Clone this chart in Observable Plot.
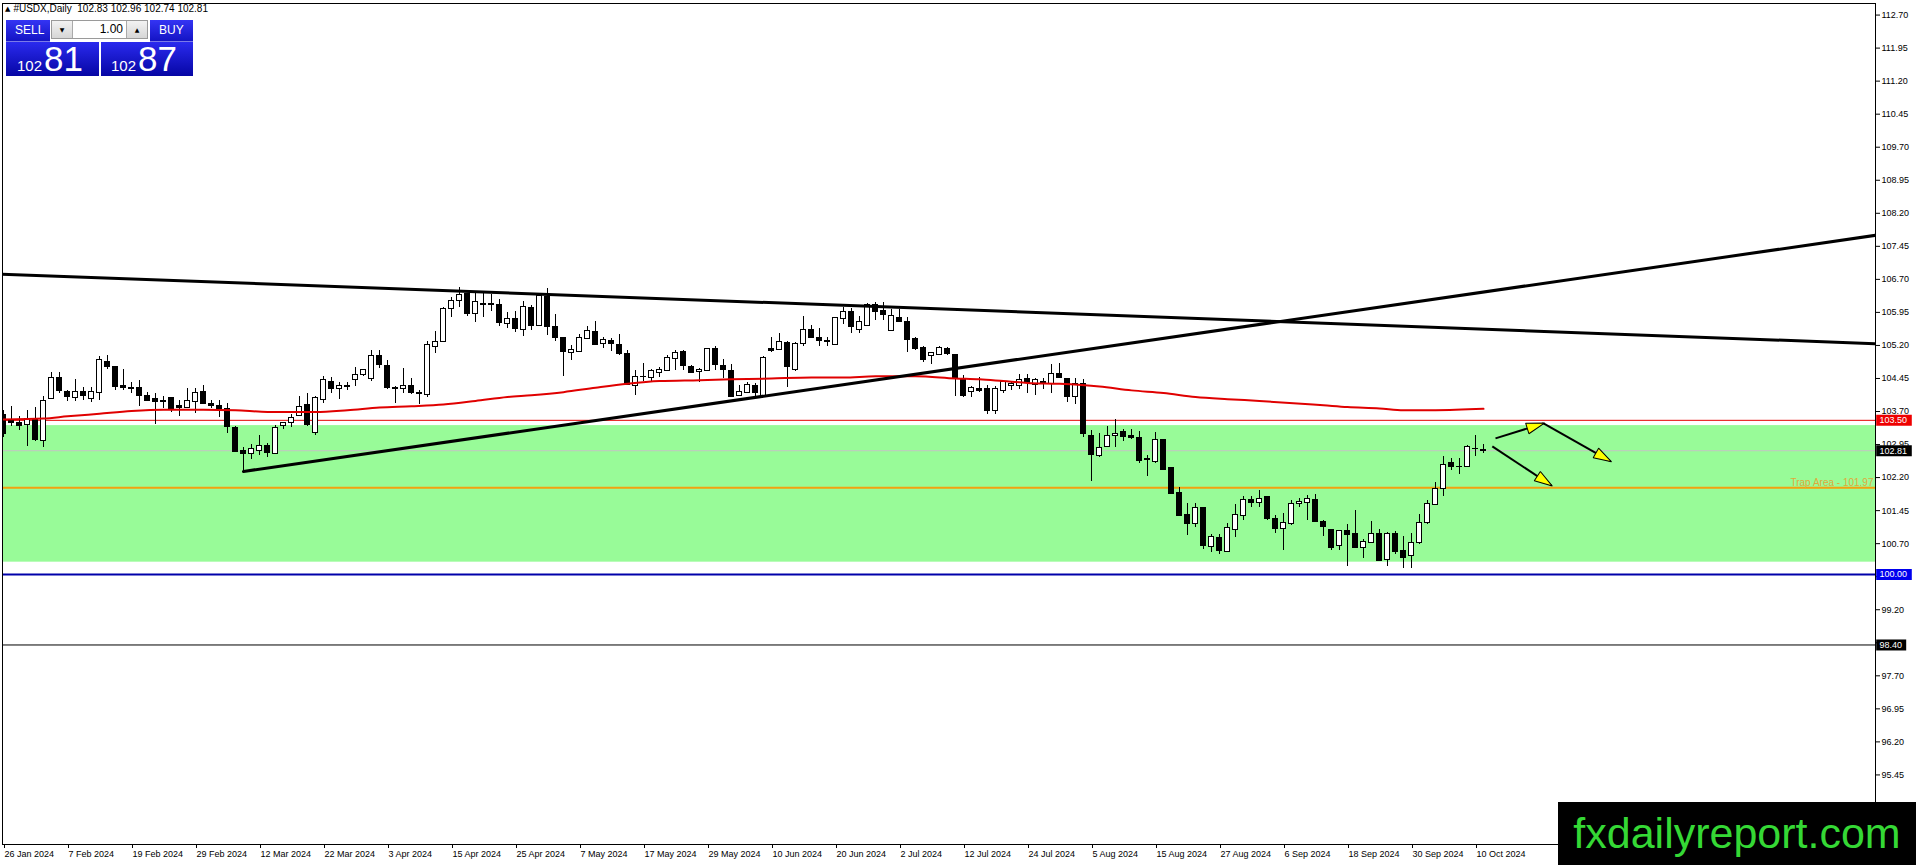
<!DOCTYPE html>
<html><head><meta charset="utf-8">
<script src="https://cdn.jsdelivr.net/npm/d3@7"></script>
<script src="https://cdn.jsdelivr.net/npm/@observablehq/plot@0.6"></script>
<style>
body{margin:0;background:#fff;}
#wrap{position:relative;width:1916px;height:865px;overflow:hidden;font-family:"Liberation Sans",Arial,sans-serif;}
#chart svg{display:block;}
#hdr{position:absolute;left:5px;top:3px;font-size:10px;color:#000;white-space:pre;}
#hdr .tri{font-size:7px;font-family:"DejaVu Sans";vertical-align:1px;margin-right:3px;}
.blue{position:absolute;background:linear-gradient(#3434f4,#1414c4);color:#fff;}
.big{position:absolute;top:42px;height:34px;background:linear-gradient(#2a2aee,#0606a4);color:#fff;}
.big .v{position:absolute;right:16px;top:0;line-height:34px;white-space:nowrap;}
.big .s{font-size:15px;margin-right:2px;}
.big .b{font-size:35px;}
#lot{position:absolute;left:51px;top:20px;width:97px;height:19px;background:#fff;border:1px solid #9a9a9a;box-sizing:border-box;}
#lot .dn,#lot .up{position:absolute;top:0;width:20px;height:17px;background:linear-gradient(#f2f2f2,#d6d6d6);font-size:6px;font-family:"DejaVu Sans";text-align:center;line-height:17px;}
#lot .dn{left:0;border-right:1px solid #aaa;}
#lot .up{right:0;border-left:1px solid #aaa;}
#lot .val{position:absolute;right:24px;top:0;line-height:17px;font-size:12px;}
#wm{position:absolute;left:1558px;top:802px;width:358px;height:63px;background:#000;color:#35d835;font-size:43px;line-height:63px;text-align:center;font-family:"Liberation Sans",Arial,sans-serif;}
</style></head><body>
<div id="wrap">
<div id="chart"></div>
<div id="hdr"><span class="tri">▲</span>#USDX,Daily  102.83 102.96 102.74 102.81</div>
<div class="blue" style="left:6px;top:20px;width:44px;height:22px;font-size:12px;line-height:21px;padding-left:9px;box-sizing:border-box;border-bottom:1px solid #7a7ae8;">SELL</div>
<div id="lot"><div class="dn">▼</div><div class="val">1.00</div><div class="up">▲</div></div>
<div class="blue" style="left:150px;top:20px;width:43px;height:22px;font-size:12px;line-height:21px;padding-left:9px;box-sizing:border-box;border-bottom:1px solid #7a7ae8;">BUY</div>
<div class="big" style="left:6px;width:93px;"><div class="v"><span class="s">102</span><span class="b">81</span></div></div>
<div class="big" style="left:101px;width:92px;"><div class="v"><span class="s">102</span><span class="b">87</span></div></div>
<div id="wm">fxdailyreport.com</div>
</div>
<script>
// ---- data (daily bars, index 0 = 26 Jan 2024 ... 185 = 11 Oct 2024) ----
const opens = [103.62,103.49,103.45,103.39,103.52,103.03,103.98,104.45,104.15,104.01,
104.14,103.98,104.11,104.83,104.70,104.27,104.24,104.24,104.05,103.98,
103.95,104.00,103.82,103.79,103.92,104.14,103.86,103.82,103.76,103.33,
102.80,102.73,102.80,102.91,102.74,103.38,103.44,103.59,103.84,103.21,
103.97,104.38,104.20,104.27,104.42,104.52,104.44,104.97,104.73,104.24,
104.20,104.29,104.11,104.08,105.17,105.27,106.02,106.20,106.36,105.92,
106.15,106.14,106.11,105.68,105.80,105.56,106.05,105.65,106.30,105.61,
105.38,105.03,105.05,105.35,105.50,105.23,105.30,105.20,105.00,104.29,
104.48,104.47,104.57,104.62,104.89,105.05,104.71,104.59,104.62,105.11,
104.73,104.62,104.06,104.12,104.29,104.05,105.11,105.09,105.26,104.65,
105.23,105.55,105.38,105.29,105.21,105.79,105.95,105.56,105.65,106.12,
105.98,105.53,105.83,105.73,105.35,105.14,104.97,104.98,105.12,104.98,
104.43,104.14,104.20,104.20,103.71,104.17,104.29,104.29,104.44,104.30,
104.37,104.33,104.55,104.44,104.02,104.32,103.15,102.70,102.89,103.15,
103.23,103.15,103.11,102.62,102.56,103.05,102.41,101.85,101.35,101.14,
101.50,100.62,100.83,100.52,101.00,101.33,101.70,101.63,101.75,101.25,
101.04,101.14,101.60,101.63,101.70,101.20,101.02,100.64,100.98,100.92,
100.60,100.72,100.92,100.33,100.92,100.54,100.42,100.72,101.17,101.58,
101.93,102.52,102.45,102.45,102.86,102.83];
const highs = [103.73,103.82,103.58,103.73,103.79,104.03,104.59,104.59,104.17,104.42,
104.24,104.24,104.95,104.98,104.72,104.65,104.36,104.41,104.14,104.12,
104.05,104.00,103.94,104.23,104.23,104.30,103.94,103.94,103.88,103.35,
102.89,102.95,103.16,102.98,103.38,103.46,103.64,104.05,104.12,104.05,
104.50,104.47,104.35,104.35,104.71,104.65,105.08,105.09,104.85,104.26,
104.68,104.44,104.17,105.30,105.52,106.07,106.29,106.52,106.39,106.38,
106.38,106.36,106.24,105.94,105.98,106.20,106.11,106.38,106.50,105.91,
105.39,105.20,105.45,105.64,105.74,105.39,105.36,105.45,105.08,104.64,
104.79,104.65,104.70,104.97,105.09,105.09,104.74,104.68,105.14,105.17,
104.88,104.76,104.29,104.35,104.33,104.95,105.38,105.47,105.29,105.27,
105.86,105.65,105.59,105.38,105.83,106.05,106.03,105.86,106.15,106.17,
106.17,106.02,106.02,105.83,105.38,105.17,105.03,105.17,105.15,104.98,
104.52,104.27,104.47,104.30,104.26,104.41,104.39,104.53,104.53,104.45,
104.44,104.76,104.79,104.45,104.44,104.42,103.27,103.21,103.36,103.53,
103.29,103.29,103.24,102.70,103.23,103.05,102.44,101.97,101.61,101.61,
101.53,100.91,100.91,101.15,101.58,101.77,101.77,101.90,101.78,101.34,
101.39,101.67,101.73,101.80,101.81,101.22,101.02,100.99,101.13,101.45,
100.80,101.20,101.02,100.96,100.98,100.86,100.92,101.37,101.67,102.08,
102.69,102.63,102.63,102.93,103.16,102.96];
const lows = [103.12,103.36,103.27,102.91,103.01,102.88,103.97,104.12,103.92,103.93,
103.94,103.91,103.94,104.65,104.17,104.17,104.12,103.82,103.92,103.41,
103.76,103.68,103.58,103.79,103.65,103.85,103.76,103.56,103.20,102.77,
102.35,102.62,102.70,102.65,102.73,103.29,103.33,103.58,103.35,103.15,
103.89,104.12,103.98,104.18,104.27,104.50,104.39,104.67,104.21,103.89,
104.11,104.09,103.85,104.02,105.02,105.26,105.83,106.07,105.86,105.73,
105.83,105.97,105.62,105.58,105.50,105.41,105.55,105.62,105.42,105.30,
104.50,104.85,105.03,105.33,105.20,105.12,105.06,104.97,104.29,104.06,
104.38,104.38,104.47,104.61,104.64,104.62,104.56,104.36,104.62,104.64,
104.45,104.03,104.03,104.11,104.05,104.02,105.05,105.09,104.24,104.61,
105.18,105.35,105.18,105.17,105.21,105.68,105.48,105.48,105.65,105.77,
105.77,105.52,105.71,105.03,105.08,104.82,104.77,104.97,104.98,104.05,
104.02,104.02,104.14,103.64,103.64,104.11,104.17,104.20,104.11,104.06,
104.20,104.12,104.45,103.91,103.85,103.11,102.12,102.65,102.89,102.89,
103.02,103.06,102.53,102.23,102.52,102.38,101.83,101.33,100.89,101.06,
100.56,100.50,100.45,100.52,100.85,101.23,101.52,101.52,101.22,100.92,
100.54,101.11,101.52,101.23,101.20,100.86,100.55,100.54,100.19,100.60,
100.37,100.70,100.30,100.19,100.45,100.13,100.14,100.68,101.13,101.58,
101.78,102.36,102.27,102.43,102.69,102.74];
const closes = [103.18,103.45,103.38,103.52,103.06,103.95,104.45,104.17,104.03,104.14,
104.06,104.14,104.86,104.71,104.26,104.23,104.21,104.06,103.95,103.92,
103.92,103.74,103.79,103.94,104.12,103.86,103.83,103.76,103.35,102.79,
102.73,102.85,102.91,102.76,103.33,103.44,103.56,103.80,103.39,104.00,
104.42,104.21,104.29,104.26,104.53,104.64,104.95,104.76,104.23,104.20,
104.29,104.12,104.10,105.20,105.27,106.02,106.20,106.35,105.92,106.18,
106.11,106.11,105.70,105.80,105.58,106.08,105.65,106.33,105.62,105.38,
105.06,105.09,105.38,105.52,105.21,105.32,105.23,105.00,104.30,104.48,
104.49,104.61,104.64,104.92,105.02,104.74,104.57,104.64,105.12,104.76,
104.64,104.03,104.15,104.30,104.11,104.92,105.08,105.27,104.70,105.23,
105.56,105.36,105.30,105.28,105.82,105.97,105.62,105.73,106.12,105.97,
105.88,105.86,105.73,105.33,105.12,104.88,105.02,105.14,105.00,104.47,
104.05,104.23,104.17,103.71,104.21,104.36,104.32,104.42,104.35,104.41,
104.35,104.56,104.47,104.03,104.33,103.20,102.71,102.88,103.15,103.20,
103.12,103.09,102.58,102.59,103.05,102.38,101.83,101.33,101.15,101.50,
100.64,100.86,100.53,101.05,101.36,101.70,101.63,101.72,101.25,101.04,
101.16,101.61,101.64,101.72,101.20,101.07,100.61,100.99,100.90,100.60,
100.73,100.92,100.30,100.92,100.52,100.37,100.72,101.17,101.60,101.95,
102.48,102.45,102.43,102.89,102.84,102.81];

// moving average (red)
const maBar = [0,5,8,12,16,20,25,29,33,39,43,47,51,55,59,63,66,70,74,78,82,87,91,96,101,105,109,114,119,122,125,128,132,137,141,145,149,153,157,165,168,172,175,179,185];
const maVal = [103.52,103.54,103.59,103.65,103.71,103.74,103.74,103.73,103.69,103.69,103.73,103.79,103.82,103.86,103.94,104.03,104.07,104.14,104.24,104.33,104.39,104.41,104.43,104.45,104.47,104.47,104.50,104.50,104.45,104.43,104.39,104.35,104.33,104.27,104.18,104.12,104.03,103.98,103.94,103.84,103.80,103.77,103.73,103.73,103.76];

// trend lines [bar, price]
const trendDown = [[-0.375, 106.82], [234, 105.24]];
const trendUp = [[30, 102.34], [234, 107.70]];

// yellow arrows: from [bar, price] to [bar, price]
const arrowFrom = [[186.5, 103.09], [192.5, 103.43], [186.1, 102.91]];
const arrowTo = [[192.5, 103.43], [200.9, 102.57], [193.5, 102.02]];

// zone and levels
const zoneLow = 100.28, zoneHigh = 103.38;
const levelPrices = [103.50, 102.81, 101.97, 100.00, 98.40];
const levelColors = ["#e60000", "#c4c4c4", "#f2a10f", "#0000aa", "#000000"];
const levelWidths = [1, 1, 2, 2, 1];
const boxPrices = [103.50, 102.81, 100.00, 98.40];
const boxColors = ["#ee0000", "#000000", "#0000ee", "#000000"];
const trapLabel = "Trap Area - 101.97";
const trapPrice = 101.97;

// axis ticks
const yTicks = [95.45,96.20,96.95,97.70,98.45,99.20,99.95,100.70,101.45,102.20,102.95,103.70,104.45,105.20,105.95,106.70,107.45,108.20,108.95,109.70,110.45,111.20,111.95,112.70];
const dateLabels = ["26 Jan 2024","7 Feb 2024","19 Feb 2024","29 Feb 2024","12 Mar 2024","22 Mar 2024","3 Apr 2024","15 Apr 2024","25 Apr 2024","7 May 2024","17 May 2024","29 May 2024","10 Jun 2024","20 Jun 2024","2 Jul 2024","12 Jul 2024","24 Jul 2024","5 Aug 2024","15 Aug 2024","27 Aug 2024","6 Sep 2024","18 Sep 2024","30 Sep 2024","10 Oct 2024"];
const dateTickBars = [0,8,16,24,32,40,48,56,64,72,80,88,96,104,112,120,128,136,144,152,160,168,176,184];

// ---- build ----
const candles = opens.map((o, i) => ({i, open: o, high: highs[i], low: lows[i], close: closes[i], up: closes[i] > o}));
const levels = levelPrices.map((p, k) => ({p, c: levelColors[k], w: levelWidths[k]}));
const boxes = boxPrices.map((p, k) => ({p, c: boxColors[k], t: p.toFixed(2)}));
const arrows = arrowFrom.map((f, k) => ({x1: f[0], y1: f[1], x2: arrowTo[k][0], y2: arrowTo[k][1]}));
const labelByBar = new Map(dateTickBars.map((b, k) => [b, dateLabels[k]]));

const W = 1916, H = 865, mL = 2, mR = 41, mT = 3, mB = 21;
const pxPerBar = 8, pxPerUnit = 44.05, y100 = 574;
const xMin = (mL - 3) / pxPerBar, xMax = (W - mR - 3) / pxPerBar;
const yMax = 100 + (y100 - mT) / pxPerUnit, yMin = 100 - (H - mB - y100) / pxPerUnit;
const bodyHalf = 0.29;

function yellowHead(color, context) {
  const ns = "http://www.w3.org/2000/svg";
  const doc = (context && context.document) || document;
  const m = doc.createElementNS(ns, "marker");
  m.setAttribute("viewBox", "-19 -8 21 16");
  m.setAttribute("markerWidth", "21");
  m.setAttribute("markerHeight", "16");
  m.setAttribute("markerUnits", "userSpaceOnUse");
  m.setAttribute("refX", "0");
  m.setAttribute("refY", "0");
  m.setAttribute("orient", "auto");
  const p = doc.createElementNS(ns, "path");
  p.setAttribute("d", "M1,0L-17,-5.5L-17,5.5Z");
  p.setAttribute("fill", "#ffff00");
  p.setAttribute("stroke", "#000");
  p.setAttribute("stroke-width", "1");
  m.appendChild(p);
  return m;
}

const chart = Plot.plot({
  width: W, height: H,
  marginLeft: mL, marginRight: mR, marginTop: mT, marginBottom: mB,
  style: {fontFamily: "Liberation Sans, Arial, sans-serif", fontSize: "9px", background: "#fff", color: "#000"},
  x: {type: "linear", domain: [xMin, xMax], axis: null},
  y: {type: "linear", domain: [yMin, yMax], axis: null},
  marks: [
    Plot.rect([0], {x1: xMin, x2: xMax, y1: zoneLow, y2: zoneHigh, fill: "#98fb98"}),
    Plot.ruleY(levels, {y: "p", stroke: "c", strokeWidth: "w"}),
    Plot.text([trapLabel], {x: xMax, y: trapPrice, text: d => d, textAnchor: "end", lineAnchor: "bottom", dx: -2, dy: -2, fill: "#e0a93a", fontSize: 10}),
    Plot.ruleX(candles, {x: "i", y1: "low", y2: "high", stroke: "#000", strokeWidth: 1, clip: true, shapeRendering: "crispEdges"}),
    Plot.rect(candles, {x1: d => d.i - bodyHalf, x2: d => d.i + bodyHalf, y1: "open", y2: "close", fill: d => d.up ? "#fff" : "#000", stroke: "#000", strokeWidth: 1, clip: true, shapeRendering: "crispEdges"}),
    Plot.line(maBar.map((b, k) => [b, maVal[k]]), {x: d => d[0], y: d => d[1], stroke: "#e00000", strokeWidth: 2, curve: "monotone-x"}),
    Plot.line(trendDown, {x: d => d[0], y: d => d[1], stroke: "#000", strokeWidth: 3, clip: true}),
    Plot.line(trendUp, {x: d => d[0], y: d => d[1], stroke: "#000", strokeWidth: 3, clip: true}),
    Plot.link(arrows, {x1: "x1", y1: "y1", x2: "x2", y2: "y2", stroke: "#000", strokeWidth: 2, markerEnd: yellowHead}),
    Plot.frame({stroke: "#000", strokeWidth: 1}),
    Plot.axisY(yTicks, {anchor: "right", tickSize: 4, tickPadding: 2, tickFormat: d => d.toFixed(2), fontSize: 9, textAnchor: "start"}),
    Plot.axisX(dateTickBars, {anchor: "bottom", tickSize: 4, tickPadding: 2, tickFormat: d => labelByBar.get(d), fontSize: 9, textAnchor: "start", dx: 1}),
    Plot.ruleY(boxes, {y: "p", x1: xMax + 0.15, x2: d => xMax + 0.15 + (d.t.length * 5.6 + 2) / pxPerBar, stroke: "c", strokeWidth: 11, clip: false}),
    Plot.text(boxes, {x: xMax, y: "p", text: "t", dx: 4, textAnchor: "start", fill: "#fff", fontSize: 9, clip: false})
  ]
});
document.getElementById("chart").appendChild(chart);
</script>
</body></html>
